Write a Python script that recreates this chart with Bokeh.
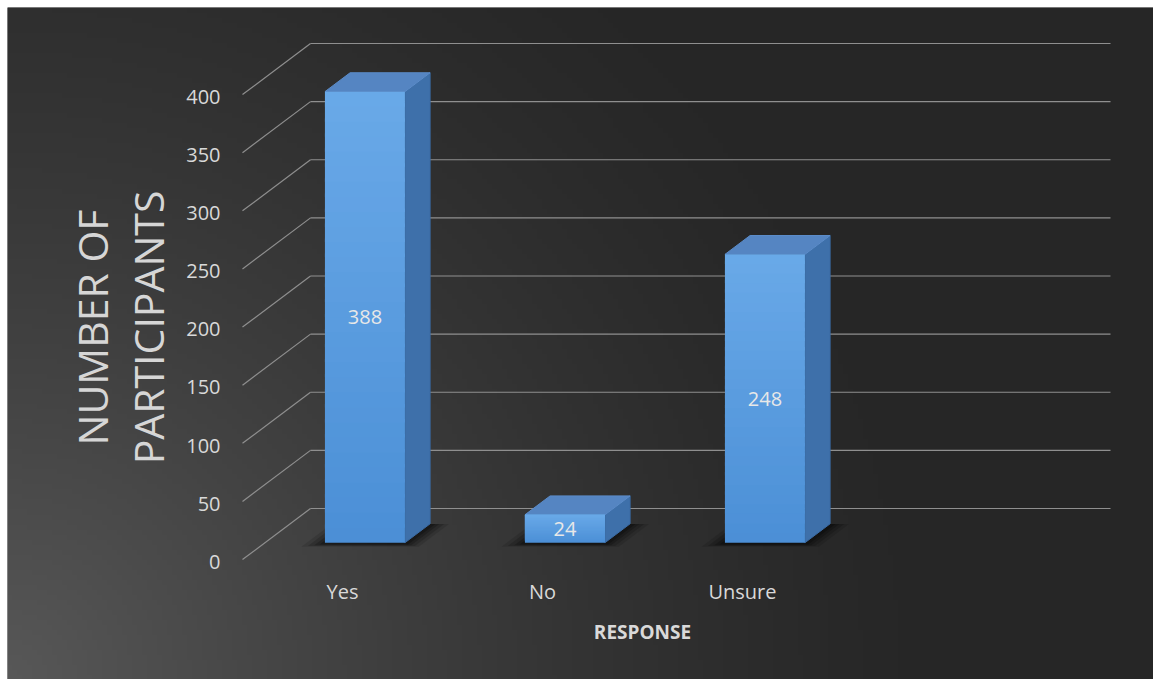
import numpy as np
from bokeh.plotting import figure
from bokeh.models import Range1d
from bokeh.embed import file_html
from bokeh.resources import INLINE
from bokeh.core.properties import value

# ---------------- data ----------------
categories = ["Yes", "No", "Unsure"]
participants = [388, 24, 248]
y_ticks = [0, 50, 100, 150, 200, 250, 300, 350, 400]
y_title_lines = ["NUMBER OF", "PARTICIPANTS"]
x_title = "RESPONSE"
n_slots = 4  # category slots on the floor (last one empty)

# ---------------- geometry / style ----------------
FIG_W, FIG_H = 1153, 679
OFF = 7                 # white margin of the chart area (left / top)
W, H = FIG_W - OFF, FIG_H - OFF
PX_CAT = 200.0          # pixels per category slot (back wall)
PX_VAL = 1.1625         # pixels per value unit
WALL_LEFT = 310.0       # image x of back wall left edge
WALL_ZERO = 508.0       # image y of back wall zero line
DEPTH_X = -0.34         # category units shift from back (d=0) to front (d=1)
DEPTH_V = -43.9         # value units shift from back to front
D_FRONT, D_BACK = 0.67, 0.30
HALF_W = 0.2


def X(img_x):
    return (img_x - WALL_LEFT) / PX_CAT


def V(img_y):
    return (WALL_ZERO - img_y) / PX_VAL


x0, x1 = X(OFF), X(OFF + W)
y0, y1 = V(OFF + H), V(OFF)

p = figure(width=FIG_W, height=FIG_H, x_range=Range1d(x0, x1), y_range=Range1d(y0, y1),
           output_backend="svg", toolbar_location=None,
           min_border_left=OFF, min_border_top=OFF, min_border_right=0, min_border_bottom=0,
           x_axis_location=None, y_axis_location=None,
           background_fill_color="#262626", border_fill_color="white")
p.grid.visible = False
p.outline_line_color = None

# ---------------- background gradient ----------------
nx, ny = 229, 134
jj = (np.arange(nx) + 0.5) * W / nx + OFF
ii = OFF + H - (np.arange(ny) + 0.5) * H / ny
XX, YY = np.meshgrid(jj, ii)
r = np.hypot(XX - 7, YY - 679)
f = np.clip(1 - r / 950.0, 0, 1) ** 1.4
g = (38 + (88 - 38) * f).astype(np.uint8)
img = np.empty((ny, nx), dtype=np.uint32)
view = img.view(dtype=np.uint8).reshape((ny, nx, 4))
view[:, :, 0] = g
view[:, :, 1] = g
view[:, :, 2] = g
view[:, :, 3] = 255
p.image_rgba(image=[img], x=x0, y=y0, dw=x1 - x0, dh=y1 - y0)

# ---------------- grid (back wall + left wall) ----------------
grid_col = "#8f8f8f"
p.segment(x0=[0] * len(y_ticks), y0=y_ticks, x1=[n_slots] * len(y_ticks), y1=y_ticks,
          line_color=grid_col, line_width=1.2)
p.segment(x0=[0] * len(y_ticks), y0=y_ticks,
          x1=[DEPTH_X] * len(y_ticks), y1=[v + DEPTH_V for v in y_ticks],
          line_color=grid_col, line_width=1.2)

# tick labels on the front edge
p.text(x=[DEPTH_X - 0.11] * len(y_ticks), y=[v + DEPTH_V - 2 for v in y_ticks],
       text=[str(v) for v in y_ticks], text_align="right", text_baseline="middle",
       text_font=value("Open Sans"), text_font_size="20px", text_color="#d9d9d9")


def pt(x, v, d):
    return x + DEPTH_X * d, v + DEPTH_V * d


# ---------------- shadows ----------------
for e, a in [(0.11, 0.12), (0.08, 0.16), (0.05, 0.2), (0.025, 0.25)]:
    xs, ys = [], []
    for i, v in enumerate(participants):
        c = i + 0.5
        corners = [(c - HALF_W - e * 0.9, D_BACK - 0.02), (c + HALF_W + e * 0.8, D_BACK - 0.02),
                   (c + HALF_W + e * 0.8, D_FRONT + e * 0.5), (c - HALF_W - e * 0.9, D_FRONT + e * 0.5)]
        pts = [pt(x, -1, d) for x, d in corners]
        xs.append([q[0] for q in pts])
        ys.append([q[1] for q in pts])
    p.patches(xs, ys, fill_color="black", fill_alpha=a, line_color=None)


# ---------------- bars ----------------
def lerp(c1, c2, t):
    a = [int(c1[k:k + 2], 16) for k in (1, 3, 5)]
    b = [int(c2[k:k + 2], 16) for k in (1, 3, 5)]
    return "#%02x%02x%02x" % tuple(int(round(a[k] + (b[k] - a[k]) * t)) for k in range(3))


side_x, side_y, top_x, top_y = [], [], [], []
ql, qr, qb, qt, qc = [], [], [], [], []
N = 30
for i, v in enumerate(participants):
    c = i + 0.5
    fl, fb = pt(c - HALF_W, 0, D_FRONT)
    fr, _ = pt(c + HALF_W, 0, D_FRONT)
    _, ft = pt(c, v, D_FRONT)
    bl, bb = pt(c - HALF_W, 0, D_BACK)
    br, _ = pt(c + HALF_W, 0, D_BACK)
    _, bt = pt(c, v, D_BACK)
    side_x.append([fr, br, br, fr])
    side_y.append([fb, bb, bt, ft])
    top_x.append([fl, fr, br, bl])
    top_y.append([ft, ft, bt, bt])
    for k in range(N):
        ql.append(fl)
        qr.append(fr)
        qb.append(fb + (ft - fb) * k / N)
        qt.append(min(ft, fb + (ft - fb) * (k + 1) / N + 3.0))
        qc.append(lerp("#4b8fd6", "#69a9e8", (k + 0.5) / N))

p.patches(side_x, side_y, fill_color="#3e70aa", line_color="#3a6aa3", line_width=1)
p.patches(top_x, top_y, fill_color="#5585c2", line_color="#5b8cc9", line_width=1)
p.quad(left=ql, right=qr, bottom=qb, top=qt, fill_color=qc, line_color=None)

# data labels
p.text(x=[i + 0.5 + DEPTH_X * D_FRONT for i in range(len(participants))],
       y=[v / 2 + DEPTH_V * D_FRONT for v in participants],
       text=[str(v) for v in participants], text_align="center", text_baseline="middle",
       text_font=value("Open Sans"), text_font_size="20px", text_color="#e8e8e8")

# category labels
p.text(x=[i + 0.5 + DEPTH_X for i in range(len(categories))],
       y=[V(591)] * len(categories), text=categories, text_align="center",
       text_baseline="middle", text_font=value("Open Sans"), text_font_size="20px",
       text_color="#d9d9d9")

# axis titles
p.text(x=[X(91), X(147)], y=[V(327)] * 2, text=y_title_lines, angle=np.pi / 2,
       text_align="center", text_baseline="middle", text_font=value("Open Sans"),
       text_font_size="41px", text_color="#d6d6d6")
p.text(x=[X(642)], y=[V(631)], text=[x_title],
       text_align="center", text_baseline="middle", text_font=value("Open Sans"),
       text_font_style="bold", text_font_size="19px", text_color="#d9d9d9")

open("out.html", "w").write(file_html(p, INLINE))
